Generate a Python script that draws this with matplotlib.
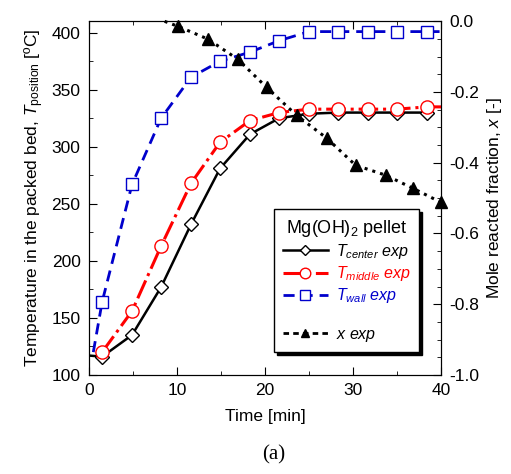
import numpy as np
import matplotlib.pyplot as plt
from matplotlib.ticker import MultipleLocator

plt.rcParams['font.family'] = ['Liberation Sans', 'DejaVu Sans']
plt.rcParams['font.size'] = 12.5
plt.rcParams['mathtext.fontset'] = 'custom'
plt.rcParams['mathtext.rm'] = 'Liberation Sans'
plt.rcParams['mathtext.it'] = 'Liberation Sans:italic'

# времена измерений (мин)
t_meas = [1.5, 4.9, 8.2, 11.6, 14.9, 18.3, 21.6, 25.0, 28.3, 31.7, 35.0, 38.4]

# температуры, ºC (первая точка линии при t=0 без маркера)
t_center = [0.0] + t_meas
T_center = [117, 116, 135, 177, 232, 281, 311, 325, 329, 330, 330, 330, 330]
t_middle = t_meas + [40.0]
T_middle = [120, 156, 213, 268, 304, 323, 330, 333, 333, 333, 333, 335, 335]
t_wall = [0.5] + t_meas + [40.0]
T_wall = [120, 164, 267, 325, 361, 375, 383, 393, 401, 401, 401, 401, 401, 401]

# степень превращения
t_x = [8.6, 10.1, 13.5, 16.9, 20.2, 23.6, 27.0, 30.3, 33.7, 36.8, 40.0]
x_frac = [0.0, -0.014, -0.05, -0.107, -0.187, -0.266, -0.33, -0.407, -0.435, -0.472, -0.512]

fig = plt.figure(figsize=(5.11, 4.74), dpi=100)
ax = fig.add_axes([0.174, 0.209, 0.689, 0.746])
ax2 = ax.twinx()

ax.plot(t_center, T_center, '-', color='black', lw=1.8, marker='D', ms=7,
        mfc='white', mec='black', markevery=list(range(1, 13)),
        label=r'$T_{center}$ $\it{exp}$', zorder=3)
ax.plot(t_middle, T_middle, '-.', color='red', lw=2.2, marker='o', ms=9.5,
        mfc='white', mec='red', markevery=list(range(0, 12)),
        label=r'$T_{middle}$ $\it{exp}$', zorder=3)
ax.plot(t_wall, T_wall, '--', color='#0000cc', lw=2.0, marker='s', ms=9,
        mfc='white', mec='#0000cc', markevery=list(range(1, 13)),
        label=r'$T_{wall}$ $\it{exp}$', dashes=(4, 2.5), zorder=3)
ax.plot([], [], ' ', label=' ')
ax2.plot(t_x, x_frac, ':', color='black', lw=2.2, marker='^', ms=8,
         markevery=list(range(1, 11)), clip_on=False)
ax.plot([], [], '--', color='black', lw=2.0, marker='^', ms=8,
        dashes=(2, 1.5), label=r'$\it{x\ exp}$')

ax.set_xlim(0, 40)
ax.set_ylim(100, 410)
ax2.set_ylim(-1.0, 0.0)
ax.xaxis.set_major_locator(MultipleLocator(10))
ax.xaxis.set_minor_locator(MultipleLocator(5))
ax.yaxis.set_major_locator(MultipleLocator(50))
ax.yaxis.set_minor_locator(MultipleLocator(25))
ax2.yaxis.set_major_locator(MultipleLocator(0.2))
ax2.yaxis.set_minor_locator(MultipleLocator(0.05))
ax2.yaxis.set_major_formatter(plt.FuncFormatter(lambda v, p: f'{v:.1f}'))
ax.tick_params(which='both', direction='in', top=True, pad=6)
ax.tick_params(which='major', length=6)
ax.tick_params(which='minor', length=3)
ax2.tick_params(which='both', direction='in', pad=6)
ax2.tick_params(which='major', length=6)
ax2.tick_params(which='minor', length=3)

ax.set_xlabel('Time [min]', labelpad=8)
ax.set_ylabel(r'Temperature in the packed bed, $\it{T}_{\rm position}$ [ºC]')
ax2.set_ylabel(r'Mole reacted fraction, $\it{x}$ [-]')

leg = ax.legend(loc='lower right', bbox_to_anchor=(0.952, 0.05), title=r'Mg(OH)$_2$ pellet',
                frameon=True, fancybox=False, shadow={'color': 'black', 'alpha': 1.0},
                fontsize=11.5, title_fontsize=13, handlelength=2.8, borderpad=0.55,
                labelspacing=0.2, markerscale=0.8, handletextpad=0.5, borderaxespad=0.3,
                edgecolor='black')
leg.get_frame().set_linewidth(1.0)
cols = ['black', 'red', '#0000cc', 'black', 'black']
for txt, c in zip(leg.get_texts(), cols):
    txt.set_color(c)

fig.text(0.535, 0.03, '(a)', ha='center', fontsize=15, family='Liberation Serif')

fig.savefig('out.png', dpi=100)
